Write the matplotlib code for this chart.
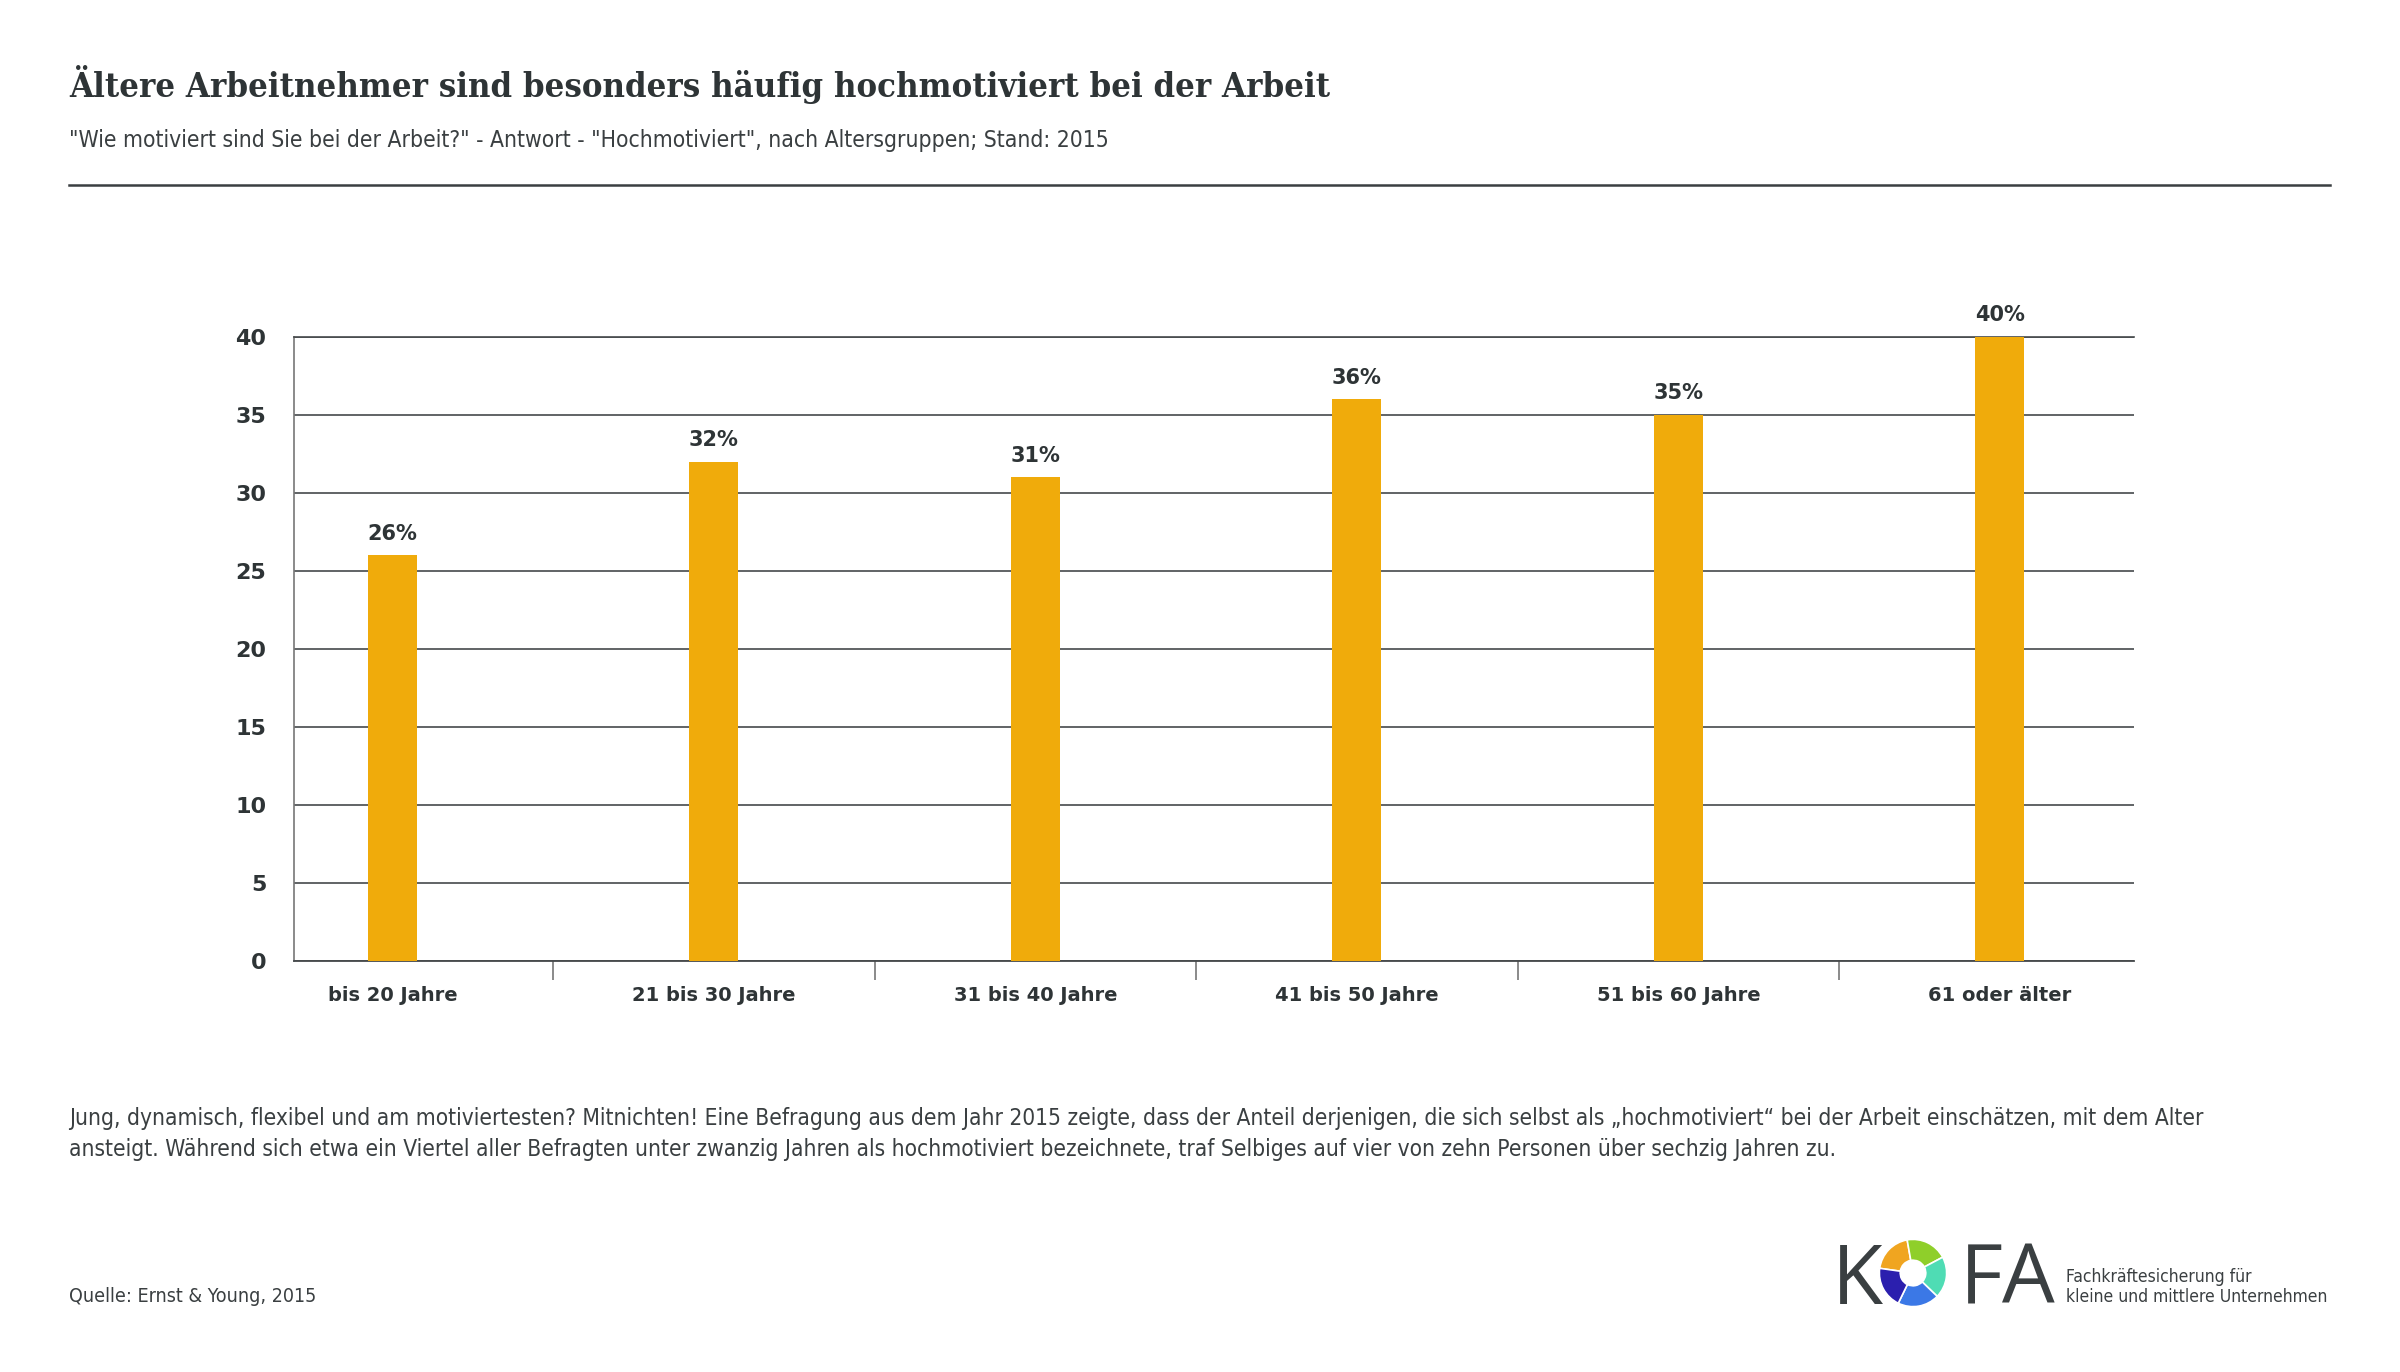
import matplotlib
matplotlib.use("Agg")
import matplotlib.pyplot as plt
from matplotlib.patches import Wedge
from matplotlib.lines import Line2D
import numpy as np

# Daten
kategorien = ["bis 20 Jahre", "21 bis 30 Jahre", "31 bis 40 Jahre",
              "41 bis 50 Jahre", "51 bis 60 Jahre", "61 oder älter"]
werte = [26, 32, 31, 36, 35, 40]
y_ticks = [0, 5, 10, 15, 20, 25, 30, 35, 40]

titel = "Ältere Arbeitnehmer sind besonders häufig hochmotiviert bei der Arbeit"
untertitel = '"Wie motiviert sind Sie bei der Arbeit?" - Antwort - "Hochmotiviert", nach Altersgruppen; Stand: 2015'
absatz = ["Jung, dynamisch, flexibel und am motiviertesten? Mitnichten! Eine Befragung aus dem Jahr 2015 zeigte, dass der Anteil derjenigen, die sich selbst als „hochmotiviert“ bei der Arbeit einschätzen, mit dem Alter",
          "ansteigt. Während sich etwa ein Viertel aller Befragten unter zwanzig Jahren als hochmotiviert bezeichnete, traf Selbiges auf vier von zehn Personen über sechzig Jahren zu."]
quelle = "Quelle: Ernst & Young, 2015"

W, H = 2400, 1372
BAR = "#f0ab0b"
DUNKEL = "#2e3436"
GRAU = "#3a3f41"
GITTER = "#45494b"
SCHMAL = ["DejaVu Sans"]

fig = plt.figure(figsize=(W / 100, H / 100), dpi=100)
fig.patch.set_facecolor("white")


def px(x, y):
    # Pixelkoordinaten (oben links) -> Figurkoordinaten
    return x / W, 1 - y / H


def schmal(x, y, s, size, **kw):
    # schmaler Fliesstext
    fig.text(*px(x, y), s, fontsize=size, color=GRAU, family=SCHMAL,
             fontstretch="condensed", va="baseline", **kw)


# Kopfbereich
fig.text(*px(69, 97), titel, fontsize=24.8, fontweight="bold", color=DUNKEL,
         family="DejaVu Serif", fontstretch="condensed", va="baseline")
schmal(69, 147, untertitel, 16.35)
fig.add_artist(Line2D([69 / W, 2330 / W], [1 - 185 / H] * 2, color=GRAU, lw=1.8))

# Diagramm
ax = fig.add_axes([294 / W, 411 / H, (2134 - 294) / W, (961 - 337) / H])
x = np.arange(len(werte))
ax.bar(x, werte, width=0.152, color=BAR, zorder=3)
ax.set_xlim(-0.306, 5.417)
ax.set_ylim(0, 40)
ax.set_yticks(y_ticks)
ax.set_yticklabels([str(t) for t in y_ticks], fontsize=16, fontweight="bold", color=DUNKEL)
ax.tick_params(axis="y", length=0, pad=20)
ax.yaxis.grid(True, color=GITTER, lw=1.2, zorder=1)
ax.set_axisbelow(True)

# Kategorien-Trennstriche
ax.set_xticks(x[:-1] + 0.5)
ax.set_xticklabels([])
ax.tick_params(axis="x", length=14, width=1.2, color="#777777", direction="out")
for xi, k in zip(x, kategorien):
    ax.text(xi, -2.2, k, ha="center", va="center", fontsize=14, fontweight="bold", color=DUNKEL)

ax.spines["right"].set_visible(False)
ax.spines["top"].set_color(GITTER)
ax.spines["top"].set_linewidth(1.2)
ax.spines["left"].set_color("#777777")
ax.spines["left"].set_linewidth(1.2)
ax.spines["bottom"].set_color(GITTER)
ax.spines["bottom"].set_linewidth(1.3)

for xi, v in zip(x, werte):
    ax.text(xi, v + 1.4, f"{v}%", ha="center", va="center", fontsize=15,
            fontweight="bold", color=DUNKEL)

# Text unten
for i, zeile in enumerate(absatz):
    schmal(69, 1125 + 31 * i, zeile, 16.3)
schmal(69, 1302, quelle, 14.1)

# Logo
fig.text(*px(1832, 1304), "K", fontsize=60, color=GRAU, family="Open Sans", va="baseline")
fig.text(*px(1960, 1304), "FA", fontsize=60, color=GRAU, family="Open Sans", va="baseline")
lax = fig.add_axes([(1913 - 37) / W, (H - 1273 - 37) / H, 74 / W, 74 / H])
lax.set_xlim(-1.1, 1.1)
lax.set_ylim(-1.1, 1.1)
lax.set_aspect("equal")
lax.axis("off")
ring = [(100, 172, "#f0a520"), (28, 100, "#8fcf2a"), (-44, 28, "#4fdcb4"),
        (244, 316, "#3b78e6"), (172, 244, "#2b1fae")]
for t1, t2, c in ring:
    lax.add_patch(Wedge((0, 0), 1.0, t1, t2, width=0.62, facecolor=c, edgecolor="white", lw=1.2))
schmal(2066, 1282, "Fachkräftesicherung für", 12.5)
schmal(2066, 1302, "kleine und mittlere Unternehmen", 12.5)

fig.savefig("out.png", dpi=100)
